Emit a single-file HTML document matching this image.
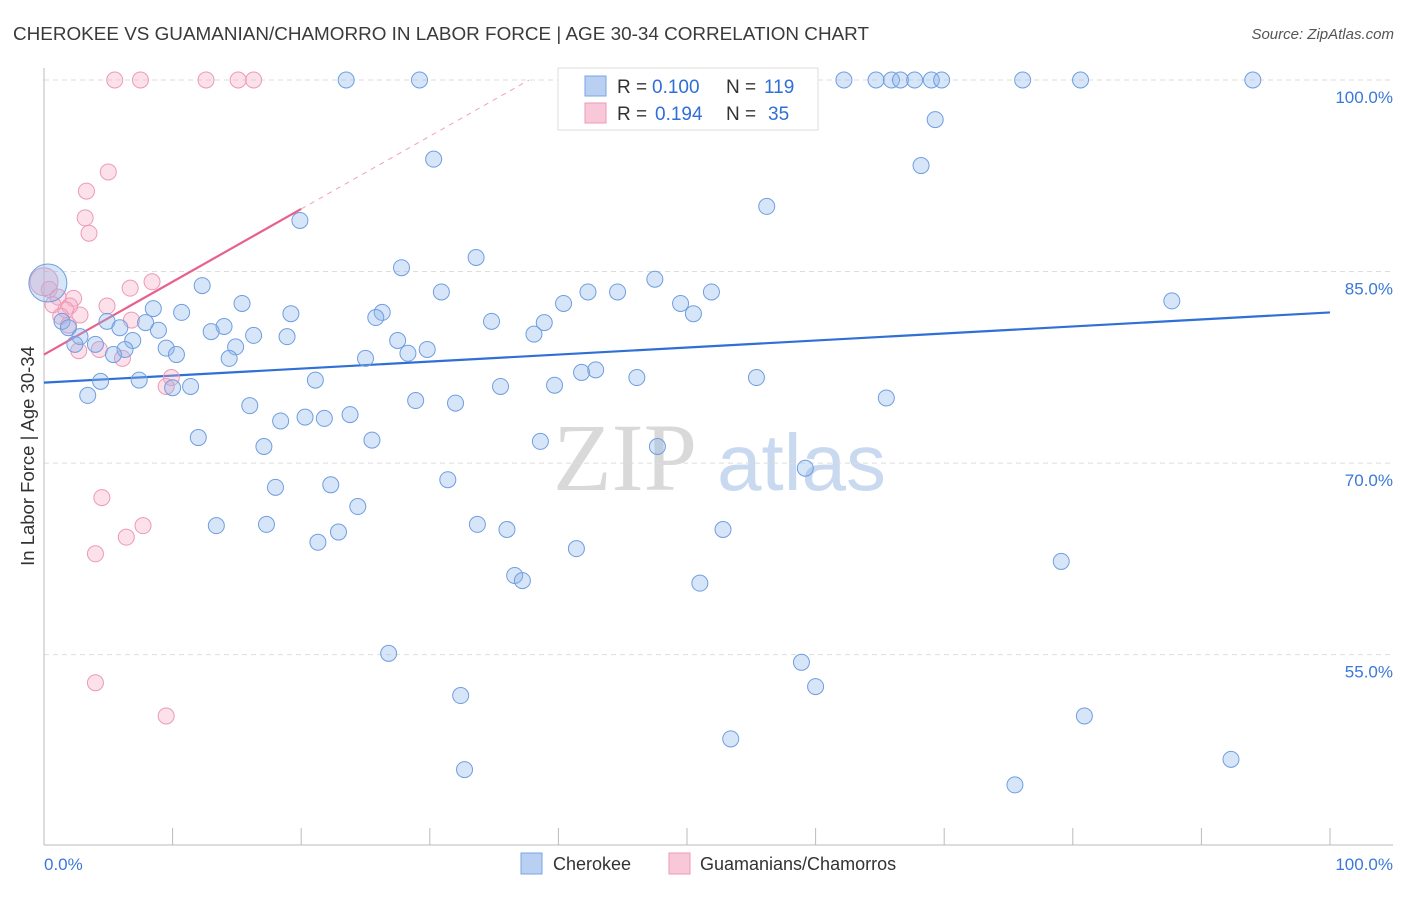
<!DOCTYPE html>
<html><head><meta charset="utf-8"><style>
body{margin:0;background:#fff;font-family:"Liberation Sans",sans-serif;}
svg text{font-family:"Liberation Sans",sans-serif;}
</style></head><body>
<svg id="chart" width="1406" height="892" viewBox="0 0 1406 892" xmlns="http://www.w3.org/2000/svg">
<text x="13" y="40" font-size="18" fill="#3a3a3a" textLength="856" lengthAdjust="spacingAndGlyphs">CHEROKEE VS GUAMANIAN/CHAMORRO IN LABOR FORCE | AGE 30-34 CORRELATION CHART</text>
<text x="1394" y="39" font-size="15" fill="#555" font-style="italic" text-anchor="end">Source: ZipAtlas.com</text>
<text x="553" y="490" font-size="96" fill="#d9d9d9" font-family="Liberation Serif" style="font-family:'Liberation Serif',serif">ZIP</text>
<text x="717" y="490" font-size="80" fill="#c9d9f0">atlas</text>
<g id="grid"></g>
<g id="axes"></g>
<g id="lines"></g>
<g id="points"></g>
<text transform="translate(34,456) rotate(-90)" font-size="18.5" fill="#333" text-anchor="middle">In Labor Force | Age 30-34</text>
<text x="44" y="870" font-size="17" fill="#3b78d8">0.0%</text>
<text x="1393" y="870" font-size="17" fill="#3b78d8" text-anchor="end">100.0%</text>
<g>
<rect x="558" y="68" width="260" height="62" fill="#fff" stroke="#ddd"/>
<rect x="585" y="76" width="21" height="20" fill="#b9d0f3" stroke="#7aa5e6"/>
<rect x="585" y="103" width="21" height="20" fill="#f9c8d8" stroke="#ec9ab7"/>
<text x="617" y="93" font-size="19" fill="#333">R = </text><text x="652" y="93" font-size="19" fill="#2f6fd6">0.100</text>
<text x="726" y="93" font-size="19" fill="#333">N = </text><text x="764" y="93" font-size="19" fill="#2f6fd6">119</text>
<text x="617" y="120" font-size="19" fill="#333">R = </text><text x="655" y="120" font-size="19" fill="#2f6fd6">0.194</text>
<text x="726" y="120" font-size="19" fill="#333">N = </text><text x="768" y="120" font-size="19" fill="#2f6fd6">35</text>
</g>
<g>
<rect x="521" y="853" width="21" height="21" fill="#b9d0f3" stroke="#7aa5e6"/>
<text x="553" y="870" font-size="18" fill="#333">Cherokee</text>
<rect x="669" y="853" width="21" height="21" fill="#f9c8d8" stroke="#ec9ab7"/>
<text x="700" y="870" font-size="18" fill="#333">Guamanians/Chamorros</text>
</g>
</svg>
<script>
const yTicks=[100,85,70,55];
const yTickLabels=["100.0%","85.0%","70.0%","55.0%"];
const xTicks=[0,10,20,30,40,50,60,70,80,90,100];
const cherokeeX=[23.5,29.2,51.6,56.7,62.2,64.7,65.9,66.6,67.7,69.0,69.8,76.1,80.6,94.0,69.3,30.3,68.2,56.2,19.9,33.6,27.8,47.5,12.3,30.9,42.3,44.6,51.9,87.7,15.4,8.5,49.5,19.2,40.4,26.3,25.8,10.7,50.5,7.9,4.9,34.8,1.4,38.9,1.9,14.0,13.0,5.9,8.9,38.1,18.9,27.5,2.8,6.9,2.4,16.3,4.0,14.9,9.5,6.3,29.8,28.3,10.3,5.4,14.4,25.0,42.9,41.8,46.1,4.4,7.4,21.1,55.4,39.7,35.5,11.4,10.0,3.4,65.5,28.9,32.0,16.0,23.8,20.3,21.8,18.4,12.0,25.5,38.6,17.1,47.7,59.2,31.4,18.0,22.3,24.4,13.4,17.3,33.7,36.0,52.8,22.9,21.3,41.4,79.1,36.6,37.2,51.0,26.8,58.9,60.0,32.4,80.9,53.4,92.3,32.7,75.5];
const cherokeeY=[100,100,100,100,100,100,100,100,100,100,100,100,100,100,96.9,93.8,93.3,90.1,89.0,86.1,85.3,84.4,83.9,83.4,83.4,83.4,83.4,82.7,82.5,82.1,82.5,81.7,82.5,81.8,81.4,81.8,81.7,81.0,81.1,81.1,81.1,81.0,80.6,80.7,80.3,80.6,80.4,80.1,79.9,79.6,79.9,79.6,79.3,80.0,79.3,79.1,79.0,78.9,78.9,78.6,78.5,78.5,78.2,78.2,77.3,77.1,76.7,76.4,76.5,76.5,76.7,76.1,76.0,76.0,75.9,75.3,75.1,74.9,74.7,74.5,73.8,73.6,73.5,73.3,72.0,71.8,71.7,71.3,71.3,69.6,68.7,68.1,68.3,66.6,65.1,65.2,65.2,64.8,64.8,64.6,63.8,63.3,62.3,61.2,60.8,60.6,55.1,54.4,52.5,51.8,50.2,48.4,46.8,46.0,44.8];
const guamX=[5.5,7.5,12.6,15.1,16.3,5.0,3.3,3.2,3.5,0.4,1.1,2.3,0.7,2.0,1.7,2.8,4.9,6.7,8.4,6.8,1.3,1.9,4.3,2.7,6.1,9.9,9.5,4.5,7.7,6.4,4.0,4.0,9.5];
const guamY=[100,100,100,100,100,92.8,91.3,89.2,88.0,83.6,83.0,82.9,82.4,82.3,82.0,81.6,82.3,83.7,84.2,81.2,81.5,80.8,78.9,78.8,78.2,76.7,76.0,67.3,65.1,64.2,62.9,52.8,50.2];
const cherokeeFit=[76.3,81.8];
const guamFit=[78.5,89.9];
const NS='http://www.w3.org/2000/svg';
const X=v=>44+v*12.86;
const Y=v=>80+(100-v)*12.77;
function mk(tag,attrs,parent){const e=document.createElementNS(NS,tag);for(const k in attrs)e.setAttribute(k,attrs[k]);document.getElementById(parent).appendChild(e);return e;}
yTicks.forEach((t,i)=>{
 const l=mk('line',{x1:44,x2:1393,y1:Y(t),y2:Y(t),stroke:'#ddd','stroke-dasharray':'5,4'},'grid');
 
 
 const tx=mk('text',{x:1393,y:Y(t)+23,'font-size':17,fill:'#3b78d8','text-anchor':'end'},'grid');
 tx.textContent=yTickLabels[i];
 
 
});
const ax=mk('line',{x1:44,x2:44,y1:68,y2:845,stroke:'#bbb'},'axes');


const bx=mk('line',{x1:44,x2:1393,y1:845,y2:845,stroke:'#bbb'},'axes');


xTicks.forEach(t=>{
 const l=mk('line',{x1:X(t),x2:X(t),y1:828,y2:845,stroke:'#bbb'},'axes');
 
 
});
const bl=mk('line',{x1:X(0),y1:Y(cherokeeFit[0]),x2:X(100),y2:Y(cherokeeFit[1]),stroke:'#2f6fd6','stroke-width':2.2},'lines');


const slope=(guamFit[1]-guamFit[0])/20;
const xEnd=(100-guamFit[0])/slope;
const pd=mk('line',{x1:X(20),y1:Y(guamFit[1]),x2:X(xEnd),y2:Y(100),stroke:'#f0a0bb','stroke-width':1,'stroke-dasharray':'5,5'},'lines');


const pl=mk('line',{x1:X(0),y1:Y(guamFit[0]),x2:X(20),y2:Y(guamFit[1]),stroke:'#e8618c','stroke-width':2.2},'lines');


guamX.forEach((x,i)=>{
 const c=mk('circle',{cx:X(x),cy:Y(guamY[i]),r:8,fill:'rgba(246,170,196,0.35)',stroke:'#ec9ab7','stroke-width':1},'points');
 
 
});
const gb=mk('circle',{cx:X(0),cy:Y(84.2),r:14,fill:'rgba(246,170,196,0.4)',stroke:'#ec9ab7'},'points');


cherokeeX.forEach((x,i)=>{
 const c=mk('circle',{cx:X(x),cy:Y(cherokeeY[i]),r:8,fill:'rgba(140,180,236,0.35)',stroke:'#6f9ee0','stroke-width':1},'points');
 
 
});
const cb=mk('circle',{cx:X(0.3),cy:Y(84.1),r:19,fill:'rgba(140,180,236,0.35)',stroke:'#6f9ee0'},'points');


</script>
</body></html>
